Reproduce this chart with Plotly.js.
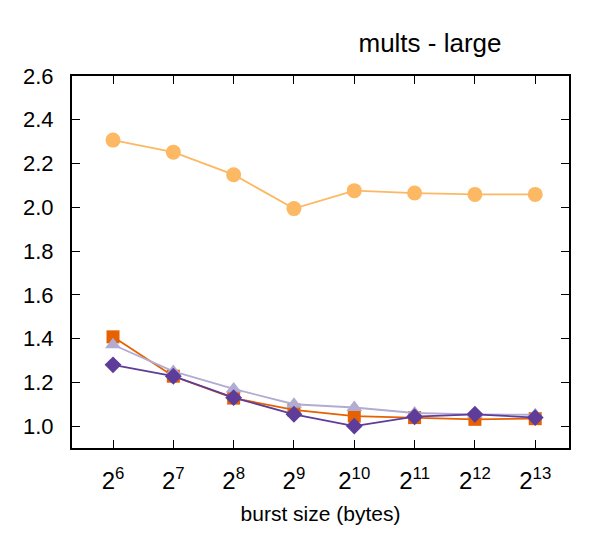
<!DOCTYPE html>
<html>
<head>
<meta charset="utf-8">
<script src="https://cdn.plot.ly/plotly-3.0.1.min.js"></script>
<style>
  body { margin: 0; background: #fff; }
  #chart { width: 598px; height: 533px; }
</style>
</head>
<body>
<div id="chart"></div>
<script>
// burst size exponents (2^n bytes)
const exponents = [6, 7, 8, 9, 10, 11, 12, 13];
const tickLabels = exponents.map(e => "2<sup>" + e + "</sup>");

// series values
const seriesCircle = [2.307, 2.252, 2.149, 1.994, 2.076, 2.065, 2.059, 2.059];
const seriesSquare = [1.408, 1.228, 1.128, 1.074, 1.046, 1.039, 1.031, 1.034];
const seriesTriangle = [1.372, 1.250, 1.170, 1.100, 1.085, 1.060, 1.054, 1.052];
const seriesDiamond = [1.280, 1.228, 1.130, 1.054, 1.000, 1.043, 1.054, 1.039];

const yTicks = [1.0, 1.2, 1.4, 1.6, 1.8, 2.0, 2.2, 2.4, 2.6];

const FONT = "Liberation Sans, Arial, sans-serif";

function trace(y, color, symbol, size) {
    return {
        x: exponents,
        y: y,
        type: "scatter",
        mode: "lines+markers",
        line: { color: color, width: 1.8 },
        marker: { color: color, symbol: symbol, size: size },
        showlegend: false,
        hoverinfo: "x+y"
    };
}

const data = [
    trace(seriesCircle, "#fdb863", "circle", 15),
    trace(seriesSquare, "#e66101", "square", 13),
    trace(seriesTriangle, "#b2abd2", "triangle-up", 14),
    trace(seriesDiamond, "#5e3c99", "diamond", 13)
];

const axisCommon = {
    showline: true,
    linecolor: "#000",
    linewidth: 2,
    mirror: "ticks",
    ticks: "inside",
    ticklen: 8,
    tickwidth: 1,
    tickcolor: "#000",
    showgrid: false,
    zeroline: false
};

const layout = {
    width: 598,
    height: 533,
    paper_bgcolor: "#fff",
    plot_bgcolor: "#fff",
    margin: { l: 72, r: 29, t: 76, b: 85 },
    font: { family: FONT, size: 21, color: "#000" },
    title: {
        text: "mults - large",
        x: 430 / 598,
        xanchor: "center",
        y: 1 - 43 / 533,
        yanchor: "middle",
        font: { family: FONT, size: 26, color: "#000" }
    },
    xaxis: Object.assign({}, axisCommon, {
        range: [5.32, 13.56],
        tickvals: exponents,
        ticktext: tickLabels,
        ticklabelstandoff: 10,
        tickfont: { family: FONT, size: 24, color: "#000" },
        title: { text: "burst size (bytes)", standoff: 14,
                 font: { family: FONT, size: 21, color: "#000" } }
    }),
    yaxis: Object.assign({}, axisCommon, {
        range: [0.9, 2.6],
        tickvals: yTicks,
        tickformat: ".1f",
        ticklabelstandoff: 12,
        tickfont: { family: FONT, size: 22, color: "#000" }
    })
};

Plotly.newPlot("chart", data, layout, { displayModeBar: false });
</script>
</body>
</html>
